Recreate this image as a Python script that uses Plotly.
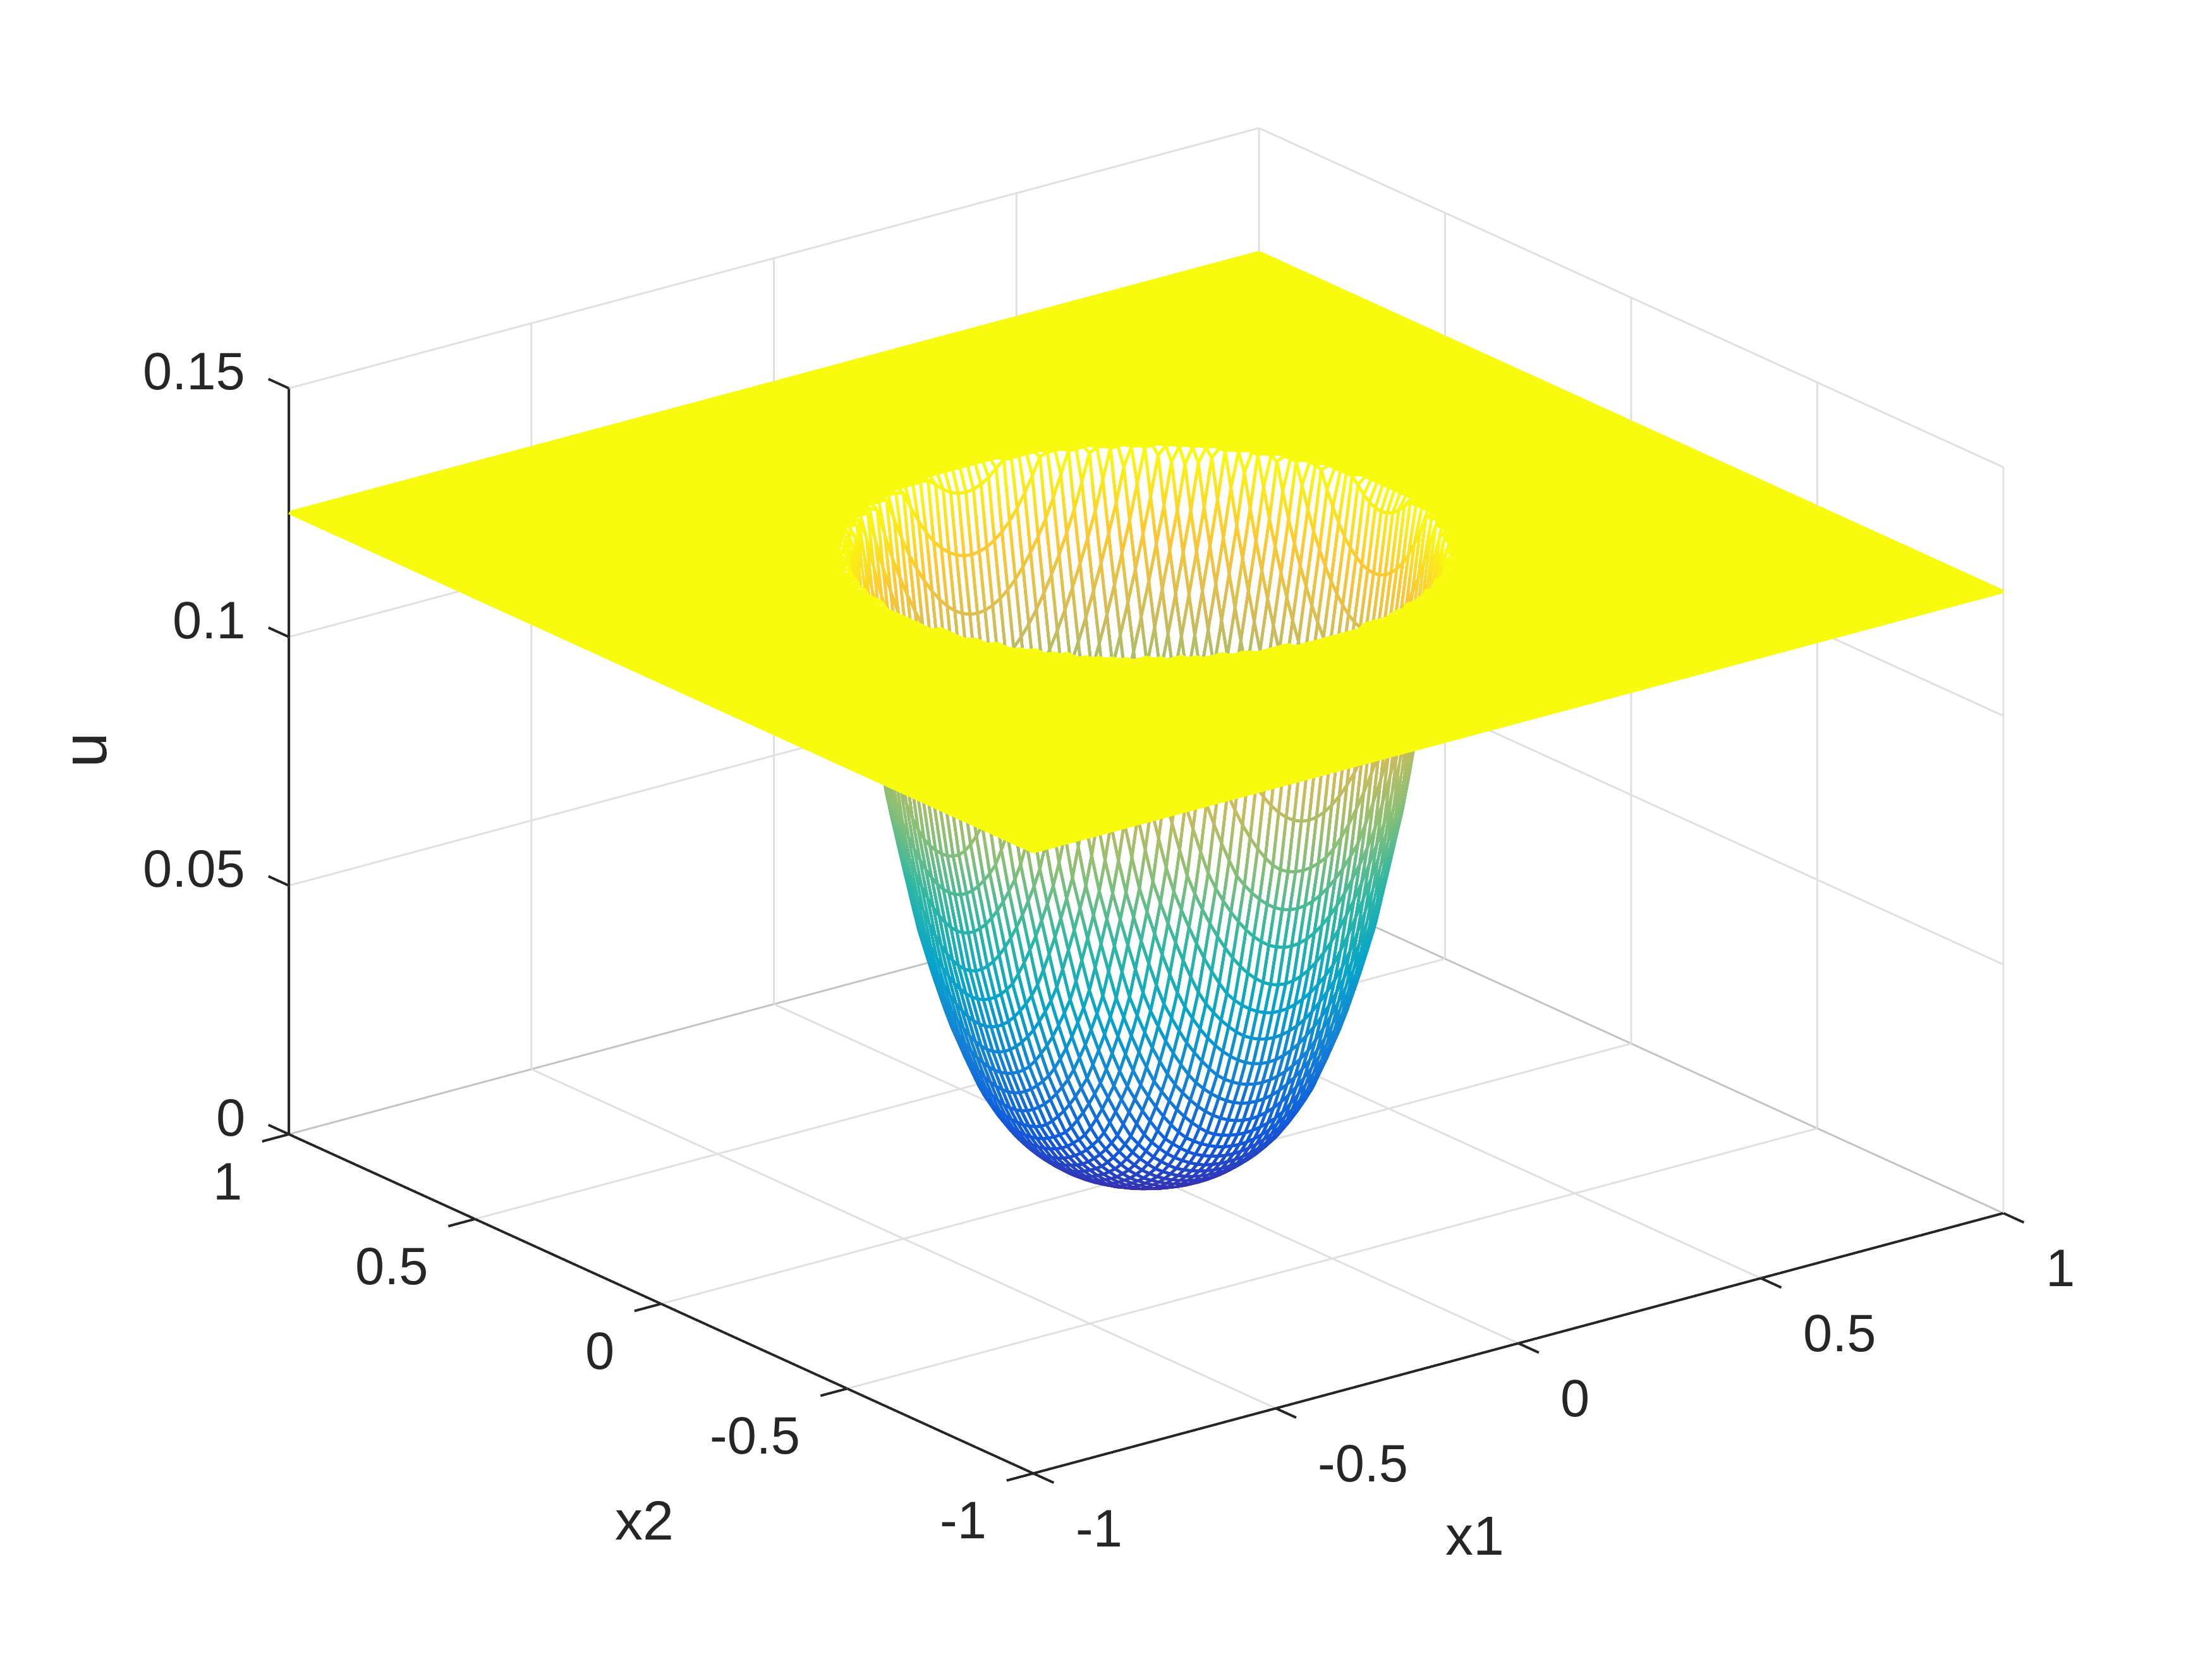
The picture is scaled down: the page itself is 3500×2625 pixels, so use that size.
import numpy as np
import plotly.graph_objects as go

# Height profile of the bowl, estimated from the bowl's silhouette in the picture at these radii
# (rim near r=0.49, flat u=0.125 beyond it).
radius = [0, .025, .05, .075, .1, .125, .15, .175, .2, .225, .25, .275, .3, .325, .35, .375, .4, .425, .45, .475, .49, 1.5]
height = [0, .0001, .0003, .0008, .0014, .0023, .0036, .0055, .0077, .0106, .0144, .0190, .0255, .0325, .0413, .0510, .0639, .0770, .0950, .1130, .125, .125]
# Mesh spacing counted from the reference: 129 lines per side.
mesh_lines = 129
x_ticks = [-1, -0.5, 0, 0.5, 1]
x_labels = ["-1", "-0.5", "0", "0.5", "1"]
z_ticks = [0, 0.05, 0.1, 0.15]
z_labels = ["0", "0.05", "0.1", "0.15"]
parula = ["#3e26a8", "#0f5cdd", "#1481d6", "#06a4ca", "#2eb7a4", "#87bf77", "#d1bb59", "#fec832", "#f9fb0e"]

# The mesh needs a height at every node: nodes between the profile's read-off radii are
# linearly interpolated from the table above (a drawing necessity, not extra read values).
g = np.linspace(-1, 1, mesh_lines)
X, Y = np.meshgrid(g, g)
Z = np.interp(np.hypot(X, Y), radius, height)

az = np.deg2rad(-37.5); el = np.deg2rad(20.46)
view = np.array([np.sin(az) * np.cos(el), -np.cos(az) * np.cos(el), np.sin(el)])
D = 6.0
scale = 1.537
zaspect = 0.651
pad = 0.1
zlo, zhi = -0.01, 0.16
zfac = 2 * zaspect / 0.15      # data z -> same units as data x in the aspect-scaled box
px_per_unit = 967.0            # screen pixels per x unit of the box
eps = 0.01
sx, sy = -view[0] * eps / scale, -view[1] * eps / scale
sz = -view[2] * eps / scale / zfac


def ribbon(p0, p1, width):
    """Four corners of a flat strip facing the camera, for lines of a true pixel width
    (the 3D line trace is limited to one pixel here)."""
    s = np.array([1, 1, zfac])
    d = (p1 - p0) * s
    n = np.cross(view, d)
    n = n / np.linalg.norm(n, axis=1, keepdims=True) * (width / 2 / px_per_unit) / s
    m = len(p0)
    v = np.stack([p0 + n, p0 - n, p1 - n, p1 + n], axis=1).reshape(-1, 3)
    base = np.arange(m, dtype=np.int32) * 4
    i = np.concatenate([base, base])
    j = np.concatenate([base + 1, base + 2])
    k = np.concatenate([base + 2, base + 3])
    return v, i, j, k


flat = dict(ambient=1, diffuse=0, specular=0, roughness=1, fresnel=0)
fig = go.Figure()


def segs(items, color, width):
    a = np.array([it[0] for it in items], float)
    b = np.array([it[1] for it in items], float)
    v, i, j, k = ribbon(a, b, width)
    fig.add_trace(go.Mesh3d(x=v[:, 0], y=v[:, 1], z=v[:, 2], i=i, j=j, k=k, color=color,
                            lighting=flat, hoverinfo="skip", showscale=False))


zt, zb = max(z_ticks), min(z_ticks)
lo, hi = min(x_ticks), max(x_ticks)
grid, edge = [], []
for t in x_ticks:
    if t == hi:
        edge += [((t, lo, zb), (t, hi, zb)), ((lo, t, zb), (hi, t, zb))]
    elif t != lo:
        grid += [((t, lo, zb), (t, hi, zb)), ((lo, t, zb), (hi, t, zb))]
    if t != lo:
        grid.append(((t, hi, zb), (t, hi, zt)))
    if t != hi:
        grid.append(((hi, t, zb), (hi, t, zt)))
for t in z_ticks:
    if t != zb:
        grid += [((lo, hi, t), (hi, hi, t)), ((hi, lo, t), (hi, hi, t))]
segs(grid, "#e0e0e0", 3)
segs(edge, "#c4c4c4", 3)

fig.add_trace(go.Surface(
    x=g + sx, y=g + sy, z=Z + sz,
    surfacecolor=(Z >= 0.1249).astype(float),
    colorscale=[[0, "white"], [0.99, "white"], [0.99, "#f9fb0e"], [1, "#f9fb0e"]],
    cmin=0, cmax=1, showscale=False, hoverinfo="skip", lighting=flat,
))

P = np.stack([X, Y, Z], axis=2)
a = np.concatenate([P[:, :-1].reshape(-1, 3), P[:-1, :].reshape(-1, 3)])
b = np.concatenate([P[:, 1:].reshape(-1, 3), P[1:, :].reshape(-1, 3)])
v, i, j, k = ribbon(a, b, 5.0)
inten = np.stack([a[:, 2], a[:, 2], b[:, 2], b[:, 2]], axis=1).reshape(-1)
fig.add_trace(go.Mesh3d(
    x=v[:, 0], y=v[:, 1], z=v[:, 2], i=i, j=j, k=k, intensity=inten,
    colorscale=[[n / 8, c] for n, c in enumerate(parula)], cmin=0, cmax=0.125,
    showscale=False, lighting=flat, hoverinfo="skip",
))

ink = "#262626"
tl = 0.055
axes = [((lo, lo, zb), (hi, lo, zb)), ((lo, lo, zb), (lo, hi, zb)), ((lo, hi, zb), (lo, hi, zt))]
for t in x_ticks:
    axes += [((t, lo, zb), (t, lo - tl, zb)), ((lo, t, zb), (lo - tl, t, zb))]
for t in z_ticks:
    axes += [((lo, hi, t), (lo, hi + tl, t))]
segs(axes, ink, 4)


def hidden(rng):
    return dict(range=rng, visible=False, showgrid=False, zeroline=False, showline=False,
                showticklabels=False, showbackground=False, showspikes=False, title=dict(text=""))


font = dict(family="Liberation Sans", size=83, color=ink)
ann = []
for t, s in zip(x_ticks, x_labels):
    ann.append(dict(x=t, y=lo, z=zb, text=s, showarrow=False, xanchor="left", yanchor="middle",
                    xshift=65, yshift=-87, font=font))
    ann.append(dict(x=lo, y=t, z=zb, text=s, showarrow=False, xanchor="right", yanchor="middle",
                    xshift=-72, yshift=-74, font=font))
for t, s in zip(z_ticks, z_labels):
    ann.append(dict(x=lo, y=hi, z=t, text=s, showarrow=False, xanchor="right", yanchor="middle",
                    xshift=-67, yshift=27, font=font))

fig.update_layout(
    width=3500, height=2625, margin=dict(l=0, r=0, t=0, b=0), paper_bgcolor="white",
    scene=dict(
        domain=dict(x=[0.0316, 1], y=[0.0406, 1]),
        xaxis=hidden([-1 - pad, 1 + pad]),
        yaxis=hidden([-1 - pad, 1 + pad]),
        zaxis=hidden([zlo, zhi]),
        aspectmode="manual",
        aspectratio=dict(x=scale * (1 + pad), y=scale * (1 + pad), z=scale * zaspect * (zhi - zlo) / 0.15),
        camera=dict(projection=dict(type="orthographic"), up=dict(x=0, y=0, z=1),
                    eye=dict(x=D * view[0], y=D * view[1], z=D * view[2])),
        annotations=ann,
    ),
    annotations=[
        dict(text="x1", x=1042 / 1568, y=1 - 1085 / 1176, xref="paper", yref="paper", showarrow=False,
             xanchor="center", yanchor="middle", font=dict(family="Liberation Sans", size=88, color=ink)),
        dict(text="x2", x=453 / 1568, y=1 - 1074 / 1176, xref="paper", yref="paper", showarrow=False,
             xanchor="center", yanchor="middle", font=dict(family="Liberation Sans", size=88, color=ink)),
        dict(text="u", x=56 / 1568, y=1 - 528 / 1176, xref="paper", yref="paper", showarrow=False, textangle=-90,
             xanchor="center", yanchor="middle", font=dict(family="Liberation Sans", size=100, color=ink)),
    ],
)
fig.write_html("out.html")
